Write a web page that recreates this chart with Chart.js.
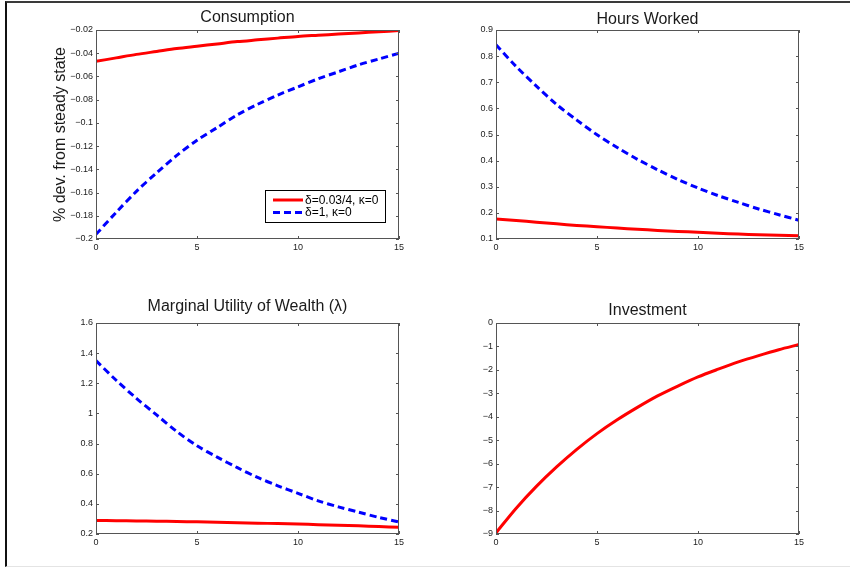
<!DOCTYPE html>
<html><head><meta charset="utf-8">
<script src="https://cdn.jsdelivr.net/npm/chart.js@4.4.1/dist/chart.umd.min.js"></script>
<style>
html,body{margin:0;padding:0;background:#fff;}
#fig{position:relative;width:850px;height:568px;overflow:hidden;background:#fff;}
#frame{position:absolute;left:5px;top:1px;width:845px;height:566px;border-top:2px solid #3a3a3a;border-left:2px solid #111;border-bottom:1px solid #e4e4e4;box-sizing:border-box;}
canvas{position:absolute;}
</style></head><body>
<div id="fig">
<div id="frame"></div>
<canvas id="c1"></canvas>
<canvas id="c2"></canvas>
<canvas id="c3"></canvas>
<canvas id="c4"></canvas>
</div>
<script>
// ---- data ----
const periods = [0,1,2,3,4,5,6,7,8,9,10,11,12,13,14,15];
const seriesLabels = ['δ=0.03/4, κ=0', 'δ=1, κ=0'];
const panelTitles = ['Consumption', 'Hours Worked', 'Marginal Utility of Wealth (λ)', 'Investment'];
const yAxisTitle = '% dev. from steady state';

const consumptionRed  = [-0.047,-0.044,-0.041,-0.0385,-0.036,-0.034,-0.032,-0.030,-0.0285,-0.027,-0.0255,-0.0245,-0.0235,-0.0225,-0.0215,-0.0205];
const consumptionBlue = [-0.196,-0.177,-0.159,-0.143,-0.128,-0.115,-0.104,-0.093,-0.084,-0.076,-0.069,-0.062,-0.056,-0.050,-0.045,-0.040];
const hoursRed  = [0.177,0.171,0.164,0.158,0.152,0.147,0.142,0.137,0.133,0.129,0.126,0.122,0.119,0.116,0.114,0.112];
const hoursBlue = [0.843,0.760,0.685,0.615,0.555,0.499,0.450,0.405,0.365,0.328,0.295,0.266,0.240,0.215,0.193,0.172];
const lambdaRed  = [0.290,0.288,0.287,0.285,0.283,0.281,0.278,0.275,0.272,0.269,0.266,0.262,0.258,0.254,0.249,0.244];
const lambdaBlue = [1.35,1.22,1.10,0.99,0.88,0.785,0.71,0.64,0.575,0.52,0.47,0.42,0.38,0.345,0.31,0.28];
const investmentRed = [-8.95,-7.90,-6.97,-6.14,-5.39,-4.72,-4.13,-3.60,-3.11,-2.69,-2.30,-1.97,-1.66,-1.39,-1.14,-0.92];

const xTicks = [0,5,10,15];
const consumptionTicks = [-0.2,-0.18,-0.16,-0.14,-0.12,-0.1,-0.08,-0.06,-0.04,-0.02];
const hoursTicks = [0.1,0.2,0.3,0.4,0.5,0.6,0.7,0.8,0.9];
const lambdaTicks = [0.2,0.4,0.6,0.8,1,1.2,1.4,1.6];
const investmentTicks = [-9,-8,-7,-6,-5,-4,-3,-2,-1,0];

// ---- styling ----
const FONT = '"Liberation Sans", Arial, Helvetica, sans-serif';
const RED = '#ff0000', BLUE = '#0000ff';
const DASH = [7,4];

function redSet(d){ return {label: seriesLabels[0], data: d, borderColor: RED, backgroundColor: RED, borderWidth: 3, pointRadius: 0, tension: 0.3, fill: false}; }
function blueSet(d){ return {label: seriesLabels[1], data: d, borderColor: BLUE, backgroundColor: BLUE, borderWidth: 3, borderDash: DASH, pointRadius: 0, tension: 0.3, fill: false}; }

const boxPlugin = {
  id: 'mbox',
  afterDatasetsDraw(chart) {
    const {ctx, chartArea: a, scales: {x, y}} = chart;
    ctx.save();
    ctx.strokeStyle = '#555';
    ctx.lineWidth = 1;
    ctx.strokeRect(Math.round(a.left)+0.5, Math.round(a.top)+0.5, Math.round(a.right-a.left)-1, Math.round(a.bottom-a.top)-1);
    const L = 3;
    ctx.beginPath();
    x.ticks.forEach(t => {
      const px = Math.round(x.getPixelForValue(t.value)) + 0.5;
      ctx.moveTo(px, a.bottom); ctx.lineTo(px, a.bottom - L);
      ctx.moveTo(px, a.top); ctx.lineTo(px, a.top + L);
    });
    y.ticks.forEach(t => {
      const py = Math.round(y.getPixelForValue(t.value)) + 0.5;
      ctx.moveTo(a.left, py); ctx.lineTo(a.left + L, py);
      ctx.moveTo(a.right, py); ctx.lineTo(a.right - L, py);
    });
    ctx.stroke();
    ctx.restore();
  }
};

const legendPlugin = {
  id: 'mlegend',
  afterDraw(chart) {
    const {ctx, chartArea: a} = chart;
    const w = 120, h = 32;
    const bx = Math.round(a.right - 14 - w), by = Math.round(a.bottom - 17 - h);
    ctx.save();
    ctx.fillStyle = '#fff';
    ctx.fillRect(bx, by, w, h);
    ctx.strokeStyle = '#000';
    ctx.lineWidth = 1;
    ctx.strokeRect(bx + 0.5, by + 0.5, w, h);
    ctx.font = '12px ' + FONT;
    ctx.textBaseline = 'middle';
    ctx.textAlign = 'left';
    chart.data.datasets.forEach((ds, i) => {
      const ly = by + 10 + i * 12.5;
      ctx.beginPath();
      ctx.strokeStyle = ds.borderColor;
      ctx.lineWidth = ds.borderWidth;
      ctx.setLineDash(ds.borderDash || []);
      ctx.moveTo(bx + 8, ly); ctx.lineTo(bx + 38, ly);
      ctx.stroke();
      ctx.setLineDash([]);
      ctx.fillStyle = '#000';
      ctx.fillText(ds.label, bx + 40, ly + 0.5);
    });
    ctx.restore();
  }
};

function fmt(v){ return String(Math.round(v * 1000) / 1000).replace('-', '\u2212'); }

function makeChart(id, rect, title, titlePadBottom, yTickArr, yw, yTitle, datasets, extra) {
  const cv = document.getElementById(id);
  cv.width = rect.w; cv.height = rect.h;
  cv.style.left = rect.l + 'px'; cv.style.top = rect.t + 'px';
  cv.style.width = rect.w + 'px'; cv.style.height = rect.h + 'px';
  return new Chart(cv, {
    type: 'line',
    data: { labels: periods, datasets },
    options: {
      responsive: false,
      animation: false,
      devicePixelRatio: 1,
      layout: { padding: { left: 0, right: 10, top: 0, bottom: 0 } },
      plugins: {
        legend: { display: false },
        tooltip: { enabled: false },
        title: { display: true, text: title, fullSize: false, color: '#1a1a1a',
                 font: { family: FONT, size: 16, weight: 'normal', lineHeight: 1.2 },
                 padding: { top: 0, bottom: titlePadBottom } }
      },
      scales: {
        x: {
          type: 'linear', min: 0, max: 15,
          afterBuildTicks: s => { s.ticks = xTicks.map(v => ({value: v})); },
          afterFit: s => { s.height = 18; },
          grid: { display: false, drawTicks: false },
          border: { display: false },
          ticks: { padding: 3, color: '#222', font: { family: FONT, size: 9 }, maxRotation: 0, callback: v => fmt(v) }
        },
        y: {
          type: 'linear', min: yTickArr[0], max: yTickArr[yTickArr.length - 1],
          afterBuildTicks: s => { s.ticks = yTickArr.map(v => ({value: v})); },
          afterFit: s => { s.width = yw; },
          grid: { display: false, drawTicks: false },
          border: { display: false },
          ticks: { padding: 3, color: '#222', font: { family: FONT, size: 9 }, callback: v => fmt(v) },
          title: yTitle ? { display: true, text: yTitle, color: '#1a1a1a', font: { family: FONT, size: 16, lineHeight: 1.2 }, padding: { top: 11, bottom: 0 } } : { display: false }
        }
      }
    },
    plugins: [boxPlugin].concat(extra || [])
  });
}

makeChart('c1', {l: 40, t: 8, w: 369, h: 249}, panelTitles[0], 2.8, consumptionTicks, 56, yAxisTitle,
  [redSet(consumptionRed), blueSet(consumptionBlue)], [legendPlugin]);
makeChart('c2', {l: 456, t: 10, w: 353, h: 247}, panelTitles[1], 0.8, hoursTicks, 40, null,
  [redSet(hoursRed), blueSet(hoursBlue)]);
makeChart('c3', {l: 56, t: 297, w: 353, h: 255}, panelTitles[2], 6.8, lambdaTicks, 40, null,
  [redSet(lambdaRed), blueSet(lambdaBlue)]);
makeChart('c4', {l: 456, t: 301, w: 353, h: 251}, panelTitles[3], 2.8, investmentTicks, 40, null,
  [redSet(investmentRed)]);
</script>
</body></html>
